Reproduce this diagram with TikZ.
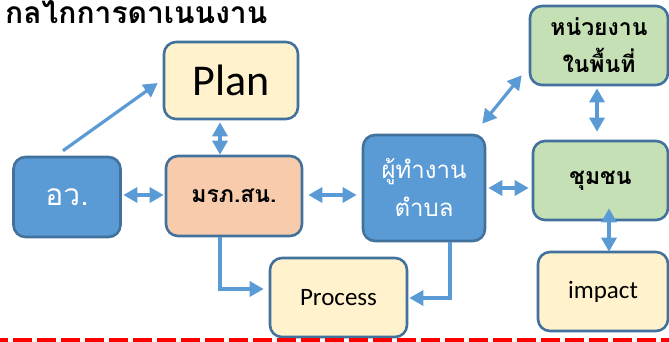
\documentclass[tikz,border=0pt]{standalone}
\usepackage{fontspec}
\setmainfont{Carlito}
\newfontfamily\thai[Script=Thai]{Loma}
\usetikzlibrary{arrows.meta,calc}
\definecolor{boxline}{HTML}{41719C}
\definecolor{arrowc}{HTML}{5B9BD5}
\definecolor{bluefill}{HTML}{5B9BD5}
\definecolor{peach}{HTML}{F8CBAD}
\definecolor{greenfill}{HTML}{C5E0B4}
\definecolor{yelfill}{HTML}{FFF2CC}
\definecolor{dashred}{HTML}{FF0000}
\tikzset{
  box/.style={draw=boxline, line width=2.6pt, rounded corners=12pt, inner sep=0pt, align=center},
  arr/.style={draw=arrowc, line width=3.2pt, -{Triangle[length=14pt,width=15pt]}},
  darr/.style={draw=arrowc, line width=3.2pt, {Triangle[length=14pt,width=15pt]}-{Triangle[length=14pt,width=15pt]}},
  thaireg/.style={font=\thai\fontsize{24}{38}\selectfont},
  thaibold/.style={font=\thai\bfseries\fontsize{23}{37}\selectfont},
  latin/.style={font=\fontsize{25}{30}\selectfont}
}
\begin{document}
\begin{tikzpicture}[x=1pt,y=-1pt]
\useasboundingbox (0,0) rectangle (669,341);
\node[anchor=base west, inner sep=0pt, font=\thai\bfseries\fontsize{30}{30}\selectfont] (title) at (5,23) {กลไกการดาเนนงาน};
\node[box, fill=yelfill, minimum width=134pt, minimum height=77pt, font=\fontsize{44}{48}\selectfont] (plan) at (231,80.5) {Plan};
\node[box, fill=bluefill, text=white, minimum width=107pt, minimum height=80pt, font=\thai\fontsize{30}{36}\selectfont] (aw) at (67,197) {อว.};
\node[box, fill=peach, minimum width=136pt, minimum height=80pt, thaibold] (mr) at (234,196) {มรภ.สน.};
\node[box, fill=bluefill, text=white, minimum width=122pt, minimum height=106pt, thaireg] (pt) at (424,188) {ผู้ทำงาน\\ตำบล};
\node[box, fill=greenfill, minimum width=135pt, minimum height=79pt, thaibold] (cc) at (600.5,180.5) {ชุมชน};
\node[box, fill=greenfill, minimum width=138pt, minimum height=79pt, thaibold] (nw) at (599,45.5) {หน่วยงาน\\ในพื้นที่};
\node[box, fill=yelfill, minimum width=137pt, minimum height=79pt, latin] (process) at (338.5,297.5) {Process};
\node[box, fill=yelfill, minimum width=130pt, minimum height=79pt, latin] (impact) at (603,291.5) {impact};
% connectors
\draw[arr] ($(aw.north)+(-4,-5)$) -- ($(plan.west)+(-5,2.5)$);
\draw[darr] ($(plan.south)+(-11,2)$) -- ($(mr.north)+(-14,0)$);
\draw[darr] ($(aw.east)+(1.5,-2)$) -- ($(mr.west)+(-1,-1)$);
\draw[darr] ($(mr.east)+(5,-1)$) -- ($(pt.west)+(-5,7)$);
\draw[darr] ($(pt.east)+(2,0)$) -- ($(cc.west)+(-3,7.5)$);
\draw[darr] ($(pt.north east)+(-4,-10)$) -- ($(nw.south west)+(-7,-11)$);
\draw[darr] ($(nw.south)+(-2,2)$) -- ($(cc.north)+(-3.5,-8)$);
\draw[darr] ($(cc.south)+(8.5,-13)$) -- ($(impact.north)+(6,1)$);
\draw[arr] ($(mr.south)+(-14,0)$) |- ($(process.west)+(-5,-8.5)$);
\draw[arr] ($(pt.south)+(26,0)$) |- ($(process.east)+(1,0.5)$);
% red dashed separator
\draw[dashred, line width=3.5pt, dash pattern=on 18.5pt off 5.5pt, dash phase=10.7pt] (0,340) -- (669,340);
\end{tikzpicture}
\end{document}
